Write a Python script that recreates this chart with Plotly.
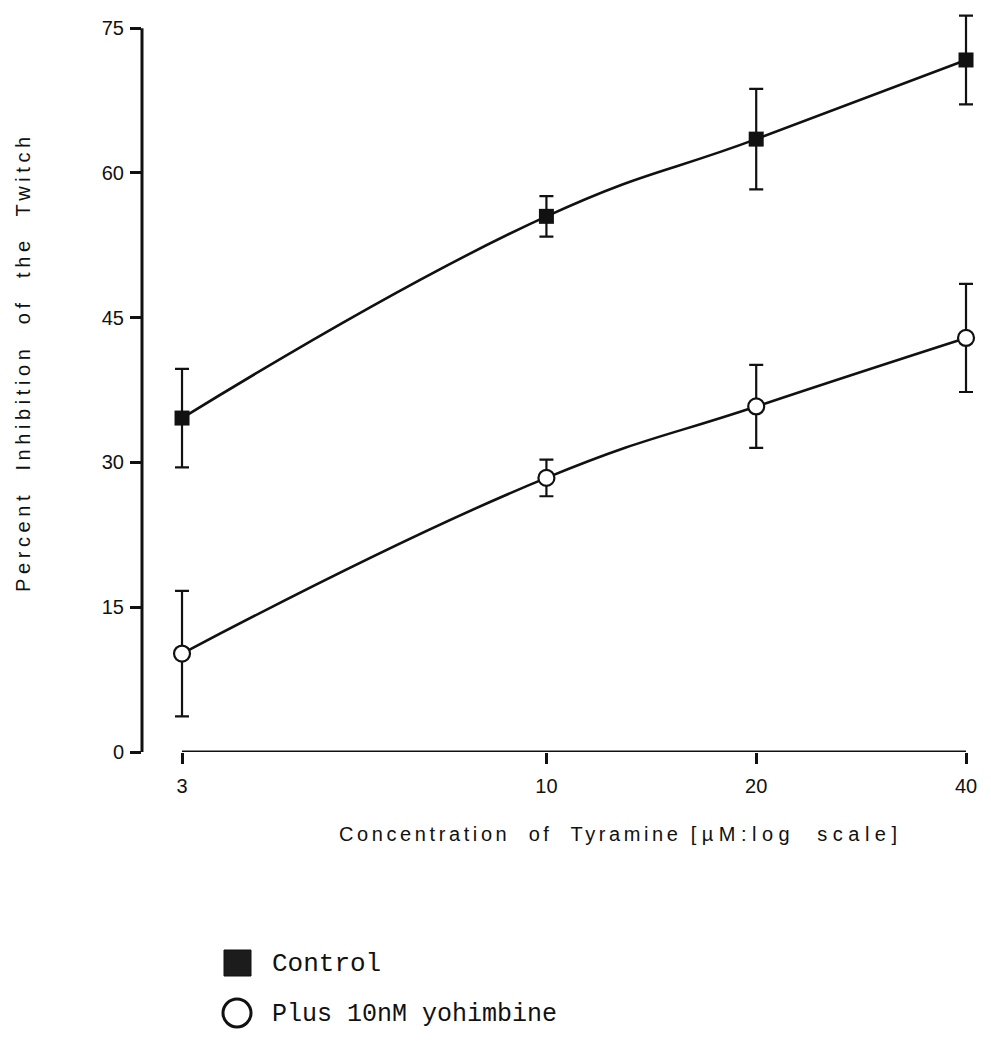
import plotly.graph_objects as go

# Tyramine concentrations (µM) and percent inhibition of the twitch (mean ± error)
concentration = [3, 10, 20, 40]
control_mean = [34.6, 55.5, 63.5, 71.7]
control_err = [5.1, 2.1, 5.2, 4.6]
yohimbine_mean = [10.2, 28.4, 35.8, 42.9]
yohimbine_err = [6.5, 1.9, 4.3, 5.6]
y_ticks = [0, 15, 30, 45, 60, 75]

W, H = 991, 1057
M_L, M_R, M_T, M_B = 142, 15, 4, 305
PW, PH = W - M_L - M_R, H - M_T - M_B


def px_x(p):
    """pixel column -> paper x"""
    return (p - M_L) / PW


def px_y(p):
    """pixel row -> paper y"""
    return (H - M_B - p) / PH


INK = "#111111"
sans = "Liberation Sans"
mono = "Liberation Mono"

fig = go.Figure()

fig.add_trace(go.Scatter(
    x=concentration, y=control_mean, name="Control",
    mode="lines+markers",
    line=dict(color=INK, width=2.6, shape="spline", smoothing=1.3),
    marker=dict(symbol="square", size=15, color=INK),
    error_y=dict(type="data", array=control_err, visible=True,
                 color=INK, thickness=2.2, width=7),
    showlegend=False,
))

fig.add_trace(go.Scatter(
    x=concentration, y=yohimbine_mean, name="Plus 10nM yohimbine",
    mode="lines+markers",
    line=dict(color=INK, width=2.6, shape="spline", smoothing=1.3),
    marker=dict(symbol="circle", size=16, color="white",
                line=dict(color=INK, width=2.2)),
    error_y=dict(type="data", array=yohimbine_err, visible=True,
                 color=INK, thickness=2.2, width=7),
    showlegend=False,
))

# detached axis lines
fig.add_shape(type="line", xref="paper", yref="y",
              x0=0, x1=0, y0=min(y_ticks), y1=max(y_ticks),
              line=dict(color=INK, width=3))
fig.add_shape(type="line", xref="x", yref="y",
              x0=min(concentration), x1=max(concentration), y0=0, y1=0,
              line=dict(color=INK, width=3))

# axis titles
fig.add_annotation(
    xref="paper", yref="paper", x=px_x(337), y=px_y(834),
    text=('<span style="letter-spacing:3.6px">Concentration  of  Tyramine </span>'
          '<span style="letter-spacing:5.5px">[µM:log  scale]</span>'),
    showarrow=False, xanchor="left", yanchor="middle",
    font=dict(family=sans, size=20, color=INK),
)
fig.add_annotation(
    xref="paper", yref="paper", x=px_x(23), y=px_y(362),
    text='<span style="letter-spacing:4.6px">Percent  Inhibition  of  the  Twitch</span>',
    textangle=-90, showarrow=False, xanchor="center", yanchor="middle",
    font=dict(family=sans, size=20, color=INK),
)

# key
fig.add_shape(type="rect", xref="paper", yref="paper",
              x0=px_x(224), x1=px_x(251), y0=px_y(976), y1=px_y(950),
              fillcolor="#1c1c1c", line=dict(color=INK, width=1))
fig.add_shape(type="circle", xref="paper", yref="paper",
              x0=px_x(223), x1=px_x(251), y0=px_y(1027), y1=px_y(999),
              fillcolor="white", line=dict(color=INK, width=3))
fig.add_annotation(xref="paper", yref="paper", x=px_x(270), y=px_y(964),
                   text="Control", showarrow=False, xanchor="left", yanchor="middle",
                   font=dict(family=mono, size=26, color=INK))
fig.add_annotation(xref="paper", yref="paper", x=px_x(270), y=px_y(1014),
                   text="Plus 10nM yohimbine", showarrow=False, xanchor="left", yanchor="middle",
                   font=dict(family=mono, size=25, color=INK))

fig.update_xaxes(
    type="log", range=[0.4197, 1.6164],
    tickvals=concentration, ticktext=[str(c) for c in concentration],
    ticks="outside", ticklen=11, tickwidth=2.5, tickcolor=INK,
    ticklabelstandoff=5,
    showline=False, showgrid=False, zeroline=False,
    tickfont=dict(family=sans, size=20, color=INK),
)
fig.update_yaxes(
    range=[0, 77.5], tickvals=y_ticks,
    ticks="outside", ticklen=11, tickwidth=2.5, tickcolor=INK,
    ticklabelstandoff=2,
    showline=False, showgrid=False, zeroline=False,
    tickfont=dict(family=sans, size=20, color=INK),
)

fig.update_layout(
    width=W, height=H,
    margin=dict(l=M_L, r=M_R, t=M_T, b=M_B),
    paper_bgcolor="white", plot_bgcolor="white",
    font=dict(family=sans, color=INK),
)

fig.write_html("out.html")
